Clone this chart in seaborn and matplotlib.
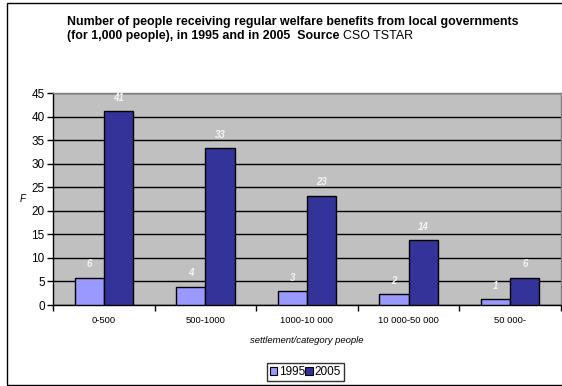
import matplotlib
matplotlib.use("Agg")
import matplotlib.pyplot as plt
from matplotlib.patches import Rectangle
from matplotlib.ticker import FixedLocator
import seaborn as sns
import pandas as pd

# Settlement size categories (number of inhabitants)
categories = ["0-500", "500-1000", "1000-10 000", "10 000-50 000", "50 000-"]
years = ["1995", "2005"]
# Recipients of regular welfare benefits per 1,000 people
values_1995 = [5.8, 3.9, 2.9, 2.3, 1.2]
values_2005 = [41.1, 33.3, 23.2, 13.7, 5.8]
y_ticks = [0, 5, 10, 15, 20, 25, 30, 35, 40, 45]

colors = {"1995": "#9999FF", "2005": "#333399"}

df = pd.DataFrame({
    "category": categories * 2,
    "year": [years[0]] * len(categories) + [years[1]] * len(categories),
    "value": values_1995 + values_2005,
})

sns.set_theme(style="white")
plt.rcParams["font.family"] = ["Liberation Sans", "DejaVu Sans"]
plt.rcParams["text.color"] = "black"
plt.rcParams["axes.labelcolor"] = "black"
plt.rcParams["xtick.color"] = "black"
plt.rcParams["ytick.color"] = "black"

W, H = 562, 386
fig = plt.figure(figsize=(W / 100, H / 100), dpi=100)
fig.patch.set_facecolor("white")

# outer chart frame
fig.patches.append(Rectangle((7 / W, 1 - 385 / H), 1.0, (385 - 3) / H,
                             transform=fig.transFigure, fill=False,
                             edgecolor="black", linewidth=1.0))

ax = fig.add_axes([53 / W, 1 - 305 / H, 508 / W, 212 / H])
ax.set_facecolor("#C0C0C0")

sns.barplot(data=df, x="category", y="value", hue="year", order=categories,
            hue_order=years, palette=colors, width=0.575, gap=0,
            edgecolor="black", linewidth=1.0, saturation=1, ax=ax,
            legend=False, errorbar=None, zorder=3)

ax.set_ylim(0, 45)
ax.set_xlim(-0.5, len(categories) - 0.5)
ax.set_yticks(y_ticks)
ax.yaxis.grid(True, color="black", linewidth=1.0, zorder=0)
ax.set_axisbelow(True)

for s in ["left", "bottom"]:
    ax.spines[s].set_color("black")
    ax.spines[s].set_linewidth(1.0)
for s in ["top", "right"]:
    ax.spines[s].set_color("#808080")
    ax.spines[s].set_linewidth(1.0)

ax.tick_params(axis="y", which="major", direction="out", length=4, width=1,
               color="black", labelsize=8.5, pad=2, left=True)
ax.tick_params(axis="x", which="major", length=0, labelsize=6.8, pad=8)
ax.xaxis.set_minor_locator(FixedLocator([i + 0.5 for i in range(-1, len(categories))]))
ax.tick_params(axis="x", which="minor", direction="out", length=4, width=1,
               color="black", bottom=True)

ax.set_xlabel("settlement/category people", fontsize=6.8, style="italic", labelpad=8)
ax.set_ylabel("F", fontsize=7, style="italic", rotation=0, labelpad=6, va="center")

# value labels above bars
for container in ax.containers:
    ax.bar_label(container, fmt="%.0f", padding=6, color="#F4F4F4",
                 fontsize=7, fontstyle="italic", fontweight="bold")

# legend
handles = [Rectangle((0, 0), 1, 1, facecolor=colors[y], edgecolor="black", linewidth=0.8)
           for y in years]
leg = fig.legend(handles, years, loc="center", bbox_to_anchor=(305.5 / W, 1 - 372 / H),
                 ncol=2, frameon=True, fontsize=8.5, handlelength=0.6, handleheight=0.6,
                 handletextpad=0.15, columnspacing=0.0, borderpad=0.25,
                 fancybox=False, edgecolor="black", borderaxespad=0)
leg.get_frame().set_linewidth(1.0)

# title
fig.text(67 / W, 1 - 22 / H,
         "Number of people receiving regular welfare benefits from local governments",
         fontsize=8.9, fontweight="bold", ha="left", va="center")
t2 = fig.text(67 / W, 1 - 36 / H, "(for 1,000 people), in 1995 and in 2005  Source ",
              fontsize=8.9, fontweight="bold", ha="left", va="center")
fig.canvas.draw()
bb = t2.get_window_extent()
fig.text(bb.x1 / W, 1 - 36 / H, "CSO TSTAR", fontsize=8.9, ha="left", va="center")

fig.savefig("out.png", dpi=100)
